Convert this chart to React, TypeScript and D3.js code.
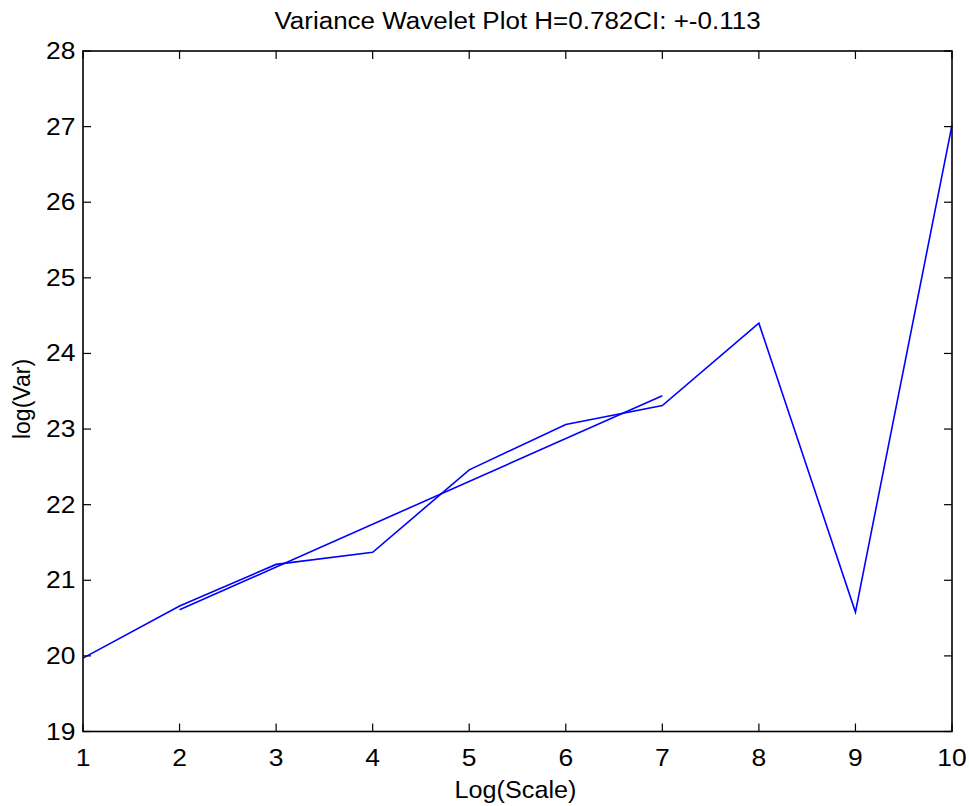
import React from "react";
import * as d3 from "d3";

const scaleX = [1, 2, 3, 4, 5, 6, 7, 8, 9, 10];
const logVar = [19.97, 20.66, 21.21, 21.37, 22.46, 23.06, 23.31, 24.4, 20.58, 27.02];
const fitX = [2, 7];
const fitY = [20.61, 23.44];
const xTicks = [1, 2, 3, 4, 5, 6, 7, 8, 9, 10];
const yTicks = [19, 20, 21, 22, 23, 24, 25, 26, 27, 28];

const W = 969, H = 806;
const L = 83, R = 952, T = 51, B = 731.5;

export default function App() {
  const x = d3.scaleLinear().domain([1, 10]).range([L, R]);
  const y = d3.scaleLinear().domain([19, 28]).range([B, T]);
  const line = d3.line<number>().x((_, i) => x(scaleX[i])).y((d) => y(d));
  const fit = d3.line<number>().x((_, i) => x(fitX[i])).y((d) => y(d));
  const font = "Liberation Sans, Arial, sans-serif";
  return (
    <svg width={W} height={H} style={{ position: "absolute", left: 0, top: 0 }} fontFamily={font}>
      <rect x={0} y={0} width={W} height={H} fill="#fff" />
      <path d={line(logVar) || ""} fill="none" stroke="#0000ff" strokeWidth={1.6} />
      <path d={fit(fitY) || ""} fill="none" stroke="#0000ff" strokeWidth={1.6} />
      <rect x={L} y={T} width={R - L} height={B - T} fill="none" stroke="#000" strokeWidth={1.6} />
      {xTicks.map((t) => (
        <g key={"x" + t}>
          <line x1={x(t)} x2={x(t)} y1={B} y2={B - 8} stroke="#000" strokeWidth={1.2} />
          <line x1={x(t)} x2={x(t)} y1={T} y2={T + 8} stroke="#000" strokeWidth={1.2} />
          <text transform={`translate(${x(t)},${765.5}) scale(1.15,1)`} textAnchor="middle" fontSize={23}>{t}</text>
        </g>
      ))}
      {yTicks.map((t) => (
        <g key={"y" + t}>
          <line x1={L} x2={L + 8} y1={y(t)} y2={y(t)} stroke="#000" strokeWidth={1.2} />
          <line x1={R} x2={R - 8} y1={y(t)} y2={y(t)} stroke="#000" strokeWidth={1.2} />
          <text transform={`translate(${75.5},${y(t) + 8}) scale(1.15,1)`} textAnchor="end" fontSize={23}>{t}</text>
        </g>
      ))}
      <text transform={`translate(${(L + R) / 2},29.3) scale(1.13,1)`} textAnchor="middle" fontSize={23}>Variance Wavelet Plot H=0.782CI: +-0.113</text>
      <text transform={`translate(${(L + R) / 2 - 2},798) scale(1.05,1)`} textAnchor="middle" fontSize={24}>Log(Scale)</text>
      <text transform={`translate(30,399) rotate(-90)`} textAnchor="middle" fontSize={23}>log(Var)</text>
    </svg>
  );
}
